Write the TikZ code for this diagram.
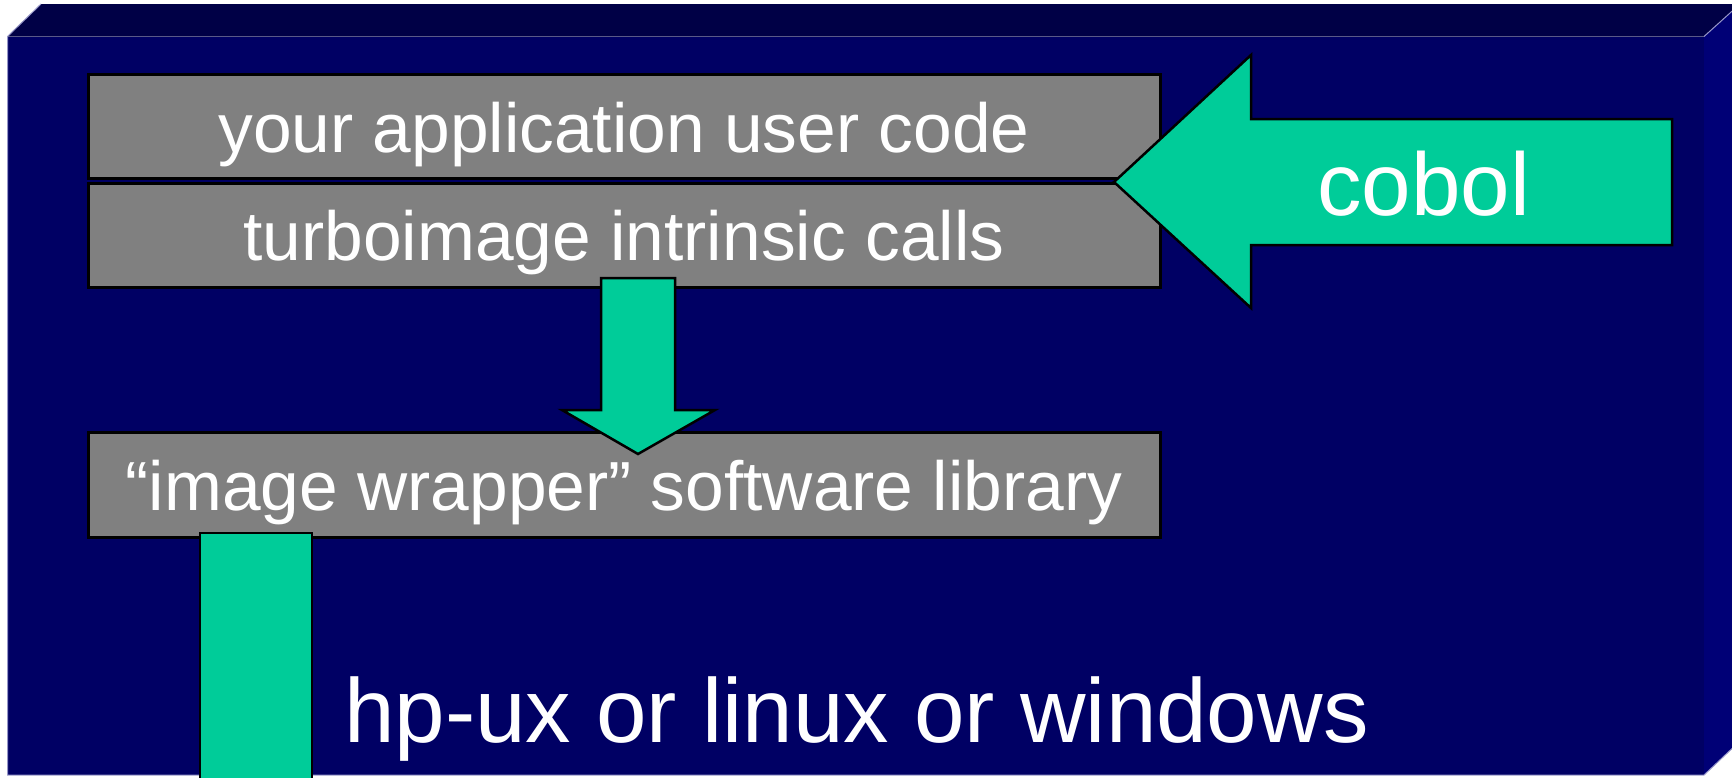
\documentclass[tikz,border=0pt]{standalone}
\usepackage{fontspec}
\setmainfont{Liberation Sans}
\begin{document}
\begin{tikzpicture}[x=1pt,y=-1pt,
  graybox/.style={draw=black, fill=boxgray, line width=3pt, minimum width=1072pt, inner sep=0pt},
  boxtext/.style={text=white, font=\fontsize{69.5}{80}\selectfont, inner sep=0pt, anchor=base},
  bigtext/.style={text=white, font=\fontsize{90.8}{100}\selectfont, inner sep=0pt, anchor=base west},
  greenshape/.style={fill=arrowgreen, draw=black, line width=2.5pt, line join=miter},
  edgeline/.style={draw=edgelav, line width=1pt}]
\definecolor{navyfront}{RGB}{0,0,100}
\definecolor{navytop}{RGB}{0,0,70}
\definecolor{navyright}{RGB}{0,0,118}
\definecolor{edgelav}{RGB}{150,150,200}
\definecolor{boxgray}{RGB}{128,128,128}
\definecolor{arrowgreen}{RGB}{0,204,153}
\useasboundingbox (0,0) rectangle (1732,777);
% 3D slab
\fill[navytop] (7.5,36.5) -- (41,4) -- (1740,4) -- (1704,36.5) -- cycle;
\fill[navyright] (1704,36.5) -- (1740,4) -- (1740,741) -- (1704,775) -- cycle;
\fill[navyfront] (7.5,36.5) rectangle (1704,775);
\draw[edgeline] (1704,775) -- (7.5,775) -- (7.5,36.5) -- (41,4);
\draw[edgeline] (1704,36.5) -- (1740,4);
\draw[edgeline] (1704,775) -- (1740,741);
% boxes
\node[graybox, minimum height=104pt] (b1) at (624,126) {};
\node[graybox, minimum height=104pt] (b2) at (624,235) {};
\node[graybox, minimum height=105pt] (b3) at (624,484.5) {};
% arrows
\draw[greenshape] (601,278) -- (675,278) -- (675,410) -- (715,410) -- (638,454) -- (562,410) -- (601,410) -- cycle;
\draw[greenshape] (1114,182) -- (1251,55) -- (1251,119) -- (1672,119) -- (1672,245) -- (1251,245) -- (1251,308) -- cycle;
\draw[greenshape] (200,533) rectangle (312,800);
% texts
\node[boxtext] (t1) at (624,152) {your application user code};
\node[boxtext] (t2) at (624,260) {turboimage intrinsic calls};
\node[boxtext] (t3) at (624,510) {“image wrapper” software library};
\node[bigtext, font=\fontsize{89}{100}\selectfont] (cob) at (1317,215) {cobol};
\node[bigtext] (os) at (344,742) {hp-ux or linux or windows};
\end{tikzpicture}
\end{document}
